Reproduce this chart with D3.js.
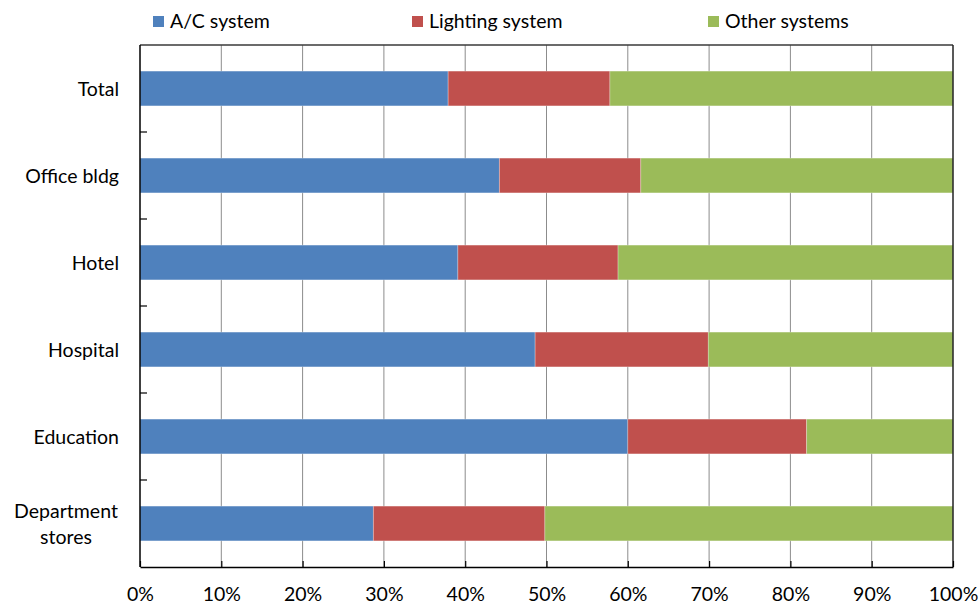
<!DOCTYPE html>
<html>
<head>
<meta charset="utf-8">
<script src="https://cdn.jsdelivr.net/npm/d3@7"></script>
<style>
  html, body { margin: 0; padding: 0; background: #fff; }
  svg { display: block; font-family: Lato, "Open Sans", sans-serif; }
</style>
</head>
<body>
<svg id="chart" width="979" height="605"></svg>
<script>
// Energy use share by building type (fractions of 1)
const categories = ["Total", "Office bldg", "Hotel", "Hospital", "Education", "Department stores"];
const seriesNames = ["A/C system", "Lighting system", "Other systems"];
const acSystem       = [0.379, 0.442, 0.391, 0.486, 0.600, 0.287];
const lightingSystem = [0.199, 0.174, 0.197, 0.213, 0.220, 0.211];
const otherSystems   = [0.422, 0.384, 0.412, 0.301, 0.180, 0.502];
const tickValues = [0, 0.1, 0.2, 0.3, 0.4, 0.5, 0.6, 0.7, 0.8, 0.9, 1.0];
const colors = ["#4F81BD", "#C0504D", "#9BBB59"];

const FONT = 19.5;
const svg = d3.select("#chart");
const margin = { left: 140, right: 26, top: 45, bottom: 38 };
const W = 979, H = 605;
const innerW = W - margin.left - margin.right;
const innerH = H - margin.top - margin.bottom;

const x = d3.scaleLinear().domain([0, 1]).range([margin.left, margin.left + innerW]);
const y = d3.scaleBand().domain(categories).range([margin.top, margin.top + innerH])
  .paddingInner(0.6).paddingOuter(0.3);
const band = d3.scaleBand().domain(categories).range([margin.top, margin.top + innerH]);

// stacked data
const rows = categories.map((c, i) => ({
  category: c,
  "A/C system": acSystem[i],
  "Lighting system": lightingSystem[i],
  "Other systems": otherSystems[i]
}));
const stacked = d3.stack().keys(seriesNames)(rows);

// vertical gridlines
svg.append("g").selectAll("line").data(tickValues.slice(1, -1)).join("line")
  .attr("x1", d => x(d)).attr("x2", d => x(d))
  .attr("y1", margin.top).attr("y2", margin.top + innerH)
  .attr("stroke", "#8c8c8c").attr("stroke-width", 1);

// bars
svg.append("g").selectAll("g").data(stacked).join("g")
  .attr("fill", (d, i) => colors[i])
  .selectAll("rect").data(d => d).join("rect")
  .attr("x", d => x(d[0]))
  .attr("width", d => x(d[1]) - x(d[0]))
  .attr("y", d => y(d.data.category))
  .attr("height", y.bandwidth())
  .attr("stroke", "rgba(255,255,255,0.35)")
  .attr("stroke-width", 0.8);

// frame: top and right
svg.append("line").attr("x1", margin.left).attr("x2", margin.left + innerW)
  .attr("y1", margin.top).attr("y2", margin.top).attr("stroke", "#3a3a3a").attr("stroke-width", 1.5);
svg.append("line").attr("x1", margin.left + innerW).attr("x2", margin.left + innerW)
  .attr("y1", margin.top).attr("y2", margin.top + innerH).attr("stroke", "#222").attr("stroke-width", 1.5);

// x axis at bottom with inward ticks
const xAxis = d3.axisBottom(x).tickValues(tickValues).tickFormat(d3.format(".0%"))
  .tickSizeInner(-6).tickSizeOuter(0);
const gx = svg.append("g").attr("transform", `translate(0,${margin.top + innerH})`).call(xAxis);
gx.select(".domain").attr("stroke", "#000").attr("stroke-width", 1.5);
gx.selectAll(".tick line").attr("stroke", "#000").attr("stroke-width", 1.2);
gx.selectAll(".tick text").attr("font-size", FONT).attr("fill", "#000")
  .attr("font-family", "Lato, 'Open Sans', sans-serif")
  .attr("y", 34).attr("dy", 0);

// y axis line with inward ticks between categories
svg.append("line").attr("x1", margin.left).attr("x2", margin.left)
  .attr("y1", margin.top).attr("y2", margin.top + innerH).attr("stroke", "#000").attr("stroke-width", 1.5);
svg.append("g").selectAll("line").data(categories.slice(1)).join("line")
  .attr("x1", margin.left).attr("x2", margin.left + 7)
  .attr("y1", d => band(d)).attr("y2", d => band(d))
  .attr("stroke", "#000").attr("stroke-width", 1.2);

// category labels
const labelLines = { "Department stores": ["Department", "stores"] };
const lab = svg.append("g").selectAll("text").data(categories).join("text")
  .attr("font-size", FONT).attr("fill", "#000");
lab.each(function(d) {
  const t = d3.select(this);
  const cy = y(d) + y.bandwidth() / 2;
  if (labelLines[d]) {
    t.attr("text-anchor", "middle").attr("x", 66);
    labelLines[d].forEach((line, k) => {
      t.append("tspan").attr("x", 66).attr("y", cy - 6 + k * 26).text(line);
    });
  } else {
    t.attr("text-anchor", "end").attr("x", 119).attr("y", cy + 7).text(d);
  }
});

// legend
const legendX = [153, 412, 708];
const lg = svg.append("g").selectAll("g").data(seriesNames).join("g")
  .attr("transform", (d, i) => `translate(${legendX[i]},16)`);
lg.append("rect").attr("width", 11).attr("height", 11).attr("fill", (d, i) => colors[i]);
lg.append("text").attr("x", 17).attr("y", 12)
  .attr("font-size", FONT).attr("fill", "#000").text(d => d);
</script>
</body>
</html>
